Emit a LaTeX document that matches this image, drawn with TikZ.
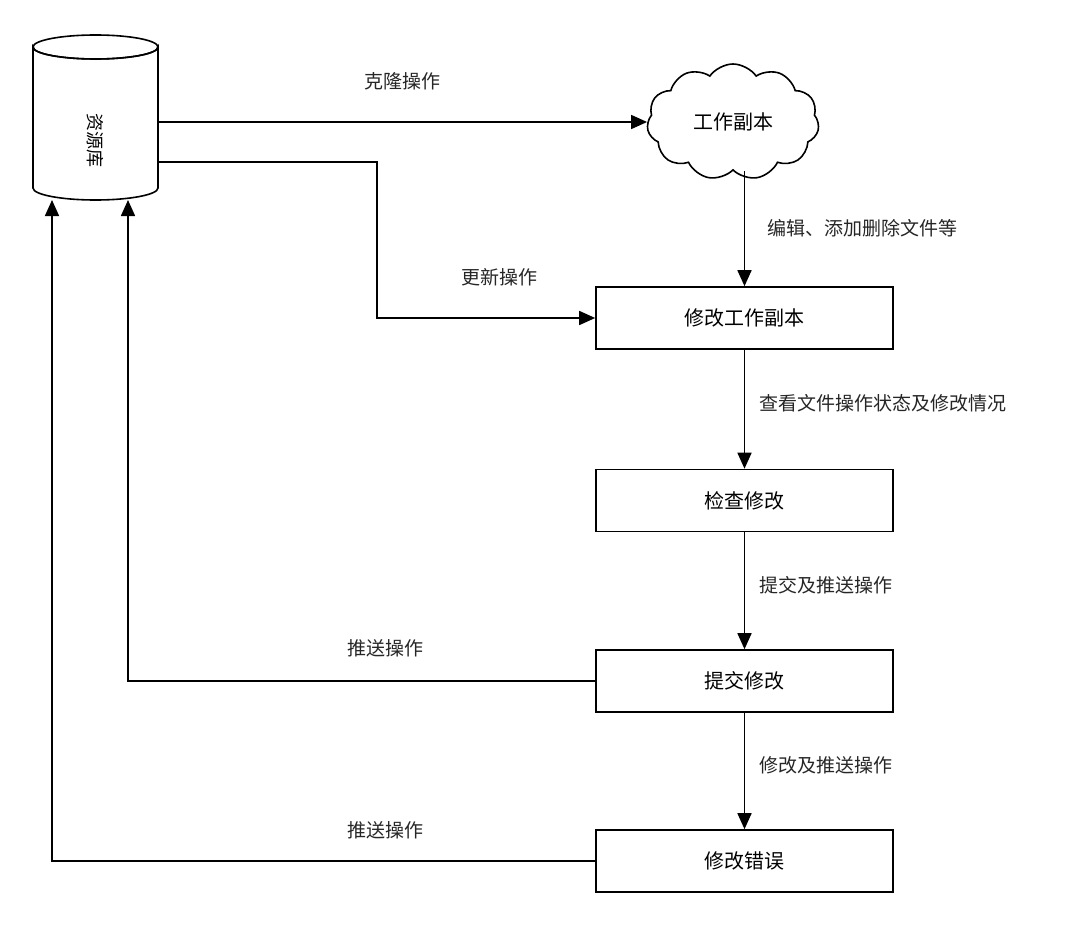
\documentclass[tikz,border=0pt]{standalone}
\usepackage{fontspec}
\setmainfont{Noto Sans CJK SC}
\usetikzlibrary{shapes.symbols,arrows.meta}
\begin{document}
\begin{tikzpicture}[x=0.5pt,y=-0.5pt,
  box/.style={draw, thick, minimum width=148.5pt, minimum height=31pt, font=\fontsize{10}{12}\selectfont},
  lbl/.style={font=\fontsize{9.5}{11}\selectfont, text=black!85},
  arr/.style={thick, -{Triangle[length=8pt,width=7pt]}}
]
\useasboundingbox (0,0) rectangle (1071,947);
% nodes
\node[minimum width=62.5pt, minimum height=83pt, inner sep=0pt] (db) at (95.5,117) {};
\draw[thick] (33,47) arc[start angle=180, end angle=360, x radius=62.5, y radius=-12]
  -- (158,188) arc[start angle=0, end angle=-180, x radius=62.5, y radius=-12] -- cycle;
\draw[thick] (95.5,47) ellipse[x radius=62.5, y radius=12];
\node[rotate=-90, font=\fontsize{9}{11}\selectfont] (dbt) at (95.5,140) {资源库};
\node[draw, thick, cloud, cloud puffs=11, cloud puff arc=110, aspect=1.6, minimum width=86pt, minimum height=58pt, font=\fontsize{10}{12}\selectfont] (cl) at (733,122) {工作副本};
\node[box] (m1) at (744.5,318) {修改工作副本};
\node[box] (m2) at (744.5,500.5) {检查修改};
\node[box] (m3) at (744.5,681) {提交修改};
\node[box] (m4) at (744.5,861) {修改错误};
\coordinate (u1) at (158,162);
\coordinate (u2) at (377,162);
\coordinate (c1) at (158,122);
\coordinate (p1) at (128,200);
\coordinate (p2) at (52,200);
% connectors
\draw[arr] (c1) -- (cl.west |- c1) node[lbl, midway, above=12pt] {克隆操作};
\draw[arr] (u1) -- (u2) |- (m1.west) node[lbl, pos=0.78, above=12pt] {更新操作};
\draw[arr] (cl.south -| m1.north) -- (m1.north) node[lbl, midway, right=8pt] {编辑、添加删除文件等};
\draw[arr] (m1) -- (m2) node[lbl, pos=0.45, right=4pt] {查看文件操作状态及修改情况};
\draw[arr] (m2) -- (m3) node[lbl, pos=0.45, right=4pt] {提交及推送操作};
\draw[arr] (m3) -- (m4) node[lbl, pos=0.45, right=4pt] {修改及推送操作};
\draw[arr] (m3.west) -| (p1);
\draw[arr] (m4.west) -| (p2);
\node[lbl] (t1) at (385,648) {推送操作};
\node[lbl] (t2) at (385,830) {推送操作};
\end{tikzpicture}
\end{document}
